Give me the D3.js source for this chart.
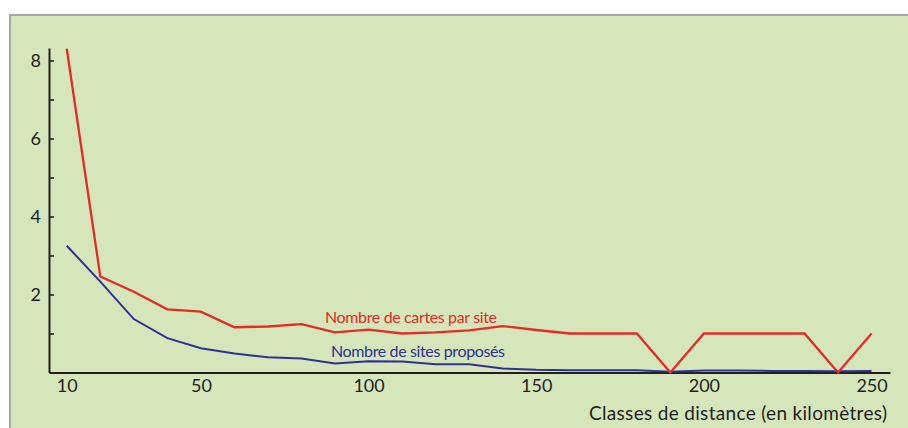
<!DOCTYPE html>
<html>
<head>
<meta charset="utf-8">
<script src="https://cdn.jsdelivr.net/npm/d3@7"></script>
<style>
  html, body { margin: 0; padding: 0; background: #ffffff; }
  svg { display: block; }
  text { font-family: Lato, "Open Sans", sans-serif; }
</style>
</head>
<body>
<svg id="chart" width="908" height="428"></svg>
<script>
// Distance classes (km)
const distances = [10, 20, 30, 40, 50, 60, 70, 80, 90, 100, 110, 120, 130,
                   140, 150, 160, 170, 180, 190, 200, 210, 220, 230, 240, 250];

// Nombre de cartes par site
const cartesParSite = [8.3, 2.46, 2.07, 1.62, 1.56, 1.16, 1.18, 1.24, 1.03, 1.1,
                       1.0, 1.03, 1.08, 1.19, 1.09, 1.0, 1.0, 1.0, 0, 1.0,
                       1.0, 1.0, 1.0, 0, 1.0];

// Nombre de sites proposés
const sitesProposes = [3.25, 2.33, 1.37, 0.88, 0.62, 0.49, 0.39, 0.36, 0.23, 0.29,
                       0.28, 0.21, 0.21, 0.1, 0.07, 0.06, 0.06, 0.06, 0.02, 0.05,
                       0.05, 0.04, 0.04, 0.03, 0.04];

const xTickValues = [10, 50, 100, 150, 200, 250];
const yTickValues = [1, 2, 3, 4, 5, 6, 7, 8];
const yLabelValues = [2, 4, 6, 8];

const seriesNames = ["Nombre de cartes par site", "Nombre de sites proposés"];
const axisTitle = "Classes de distance (en kilomètres)";

const svg = d3.select("#chart");

// Panel background with grey frame
svg.append("rect")
  .attr("x", 10).attr("y", 15)
  .attr("width", 920).attr("height", 440)
  .attr("fill", "#d5e6bb")
  .attr("stroke", "#a8a8a8")
  .attr("stroke-width", 2);

const x = d3.scaleLinear().domain([4.7, 255.5]).range([49, 890]);
const y = d3.scaleLinear().domain([0, 8.32]).range([372.5, 48]);

const axisColor = "#231f20";

// Y axis: ticks pointing inward, labels on even values only
const yAxis = svg.append("g")
  .attr("transform", `translate(${x(4.7)},0)`)
  .call(d3.axisLeft(y)
    .tickValues(yTickValues)
    .tickSizeInner(-5)
    .tickSizeOuter(0)
    .tickPadding(8)
    .tickFormat(d => yLabelValues.includes(d) ? d : ""));

// X axis: labels only, no tick marks
const xAxis = svg.append("g")
  .attr("transform", `translate(0,${y(0)})`)
  .call(d3.axisBottom(x)
    .tickValues(xTickValues)
    .tickSizeInner(0)
    .tickSizeOuter(0)
    .tickPadding(6.5)
    .tickFormat(d3.format("d")));

[yAxis, xAxis].forEach(g => {
  g.select(".domain").attr("stroke", axisColor).attr("stroke-width", 2);
  g.selectAll(".tick line").attr("stroke", axisColor).attr("stroke-width", 1.6);
  g.selectAll(".tick text")
    .attr("fill", "#231f20")
    .style("font-size", "18px")
    .style("font-family", "Lato, sans-serif");
});

// Series lines
const line = d3.line()
  .x((d, i) => x(distances[i]))
  .y(d => y(d));

svg.append("path")
  .datum(sitesProposes)
  .attr("fill", "none")
  .attr("stroke", "#2e3192")
  .attr("stroke-width", 2)
  .attr("stroke-linejoin", "miter")
  .attr("d", line);

svg.append("path")
  .datum(cartesParSite)
  .attr("fill", "none")
  .attr("stroke", "#e52a2a")
  .attr("stroke-width", 2.3)
  .attr("stroke-linejoin", "miter")
  .attr("d", line);

// Series labels
svg.append("text")
  .attr("x", 325).attr("y", 322.5)
  .attr("fill", "#e52a2a")
  .attr("textLength", 172)
  .attr("lengthAdjust", "spacing")
  .style("font-size", "16px")
  .text(seriesNames[0]);

svg.append("text")
  .attr("x", 331).attr("y", 356.5)
  .attr("fill", "#2e3192")
  .attr("textLength", 174)
  .attr("lengthAdjust", "spacing")
  .style("font-size", "16px")
  .text(seriesNames[1]);

// X axis title
svg.append("text")
  .attr("x", 887).attr("y", 420)
  .attr("text-anchor", "end")
  .attr("fill", "#231f20")
  .attr("textLength", 298)
  .attr("lengthAdjust", "spacing")
  .style("font-size", "19px")
  .text(axisTitle);
</script>
</body>
</html>
